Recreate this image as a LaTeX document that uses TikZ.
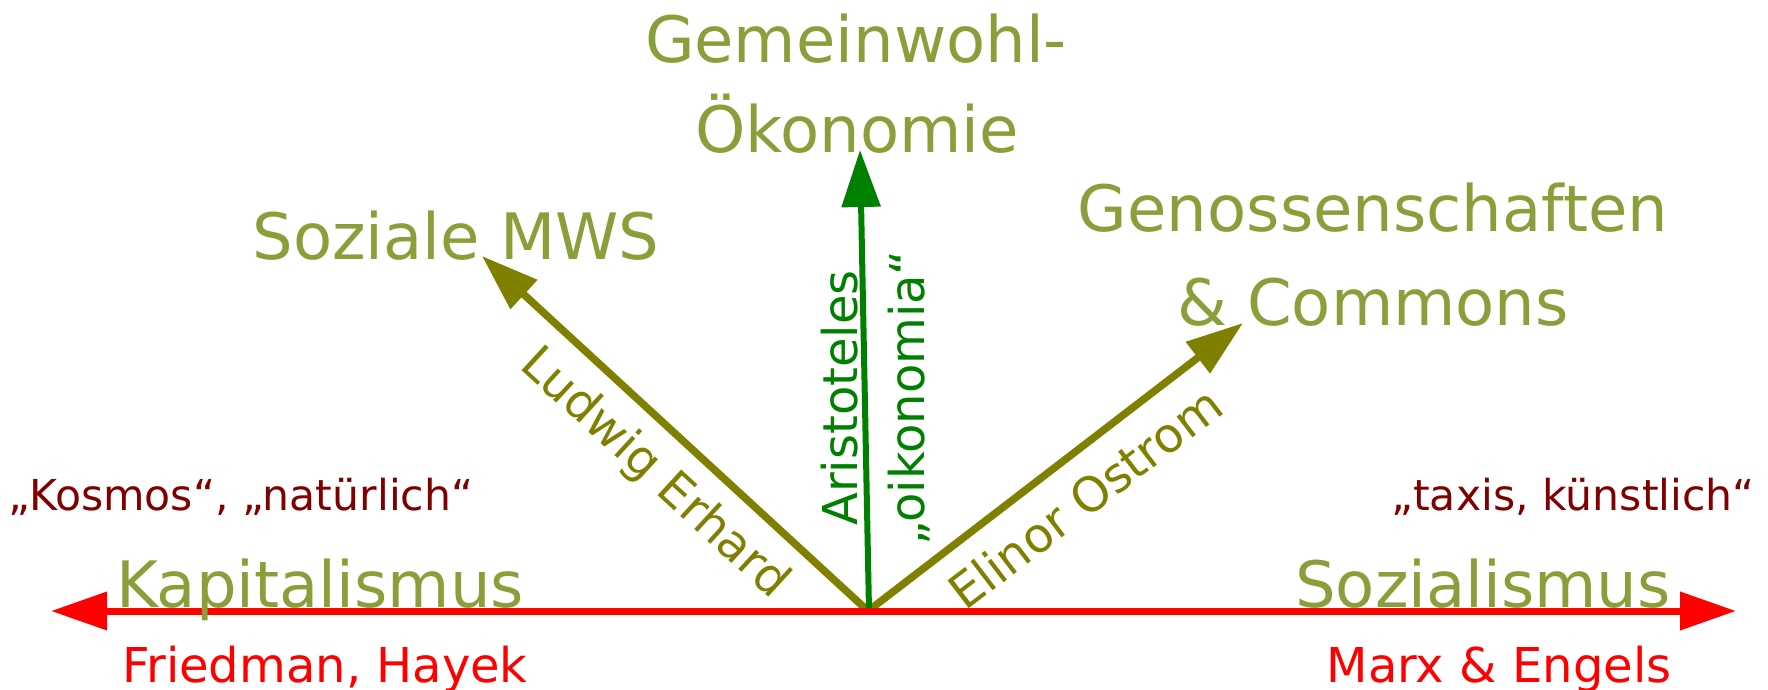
\documentclass[tikz,border=0pt]{standalone}
\usepackage{fontspec}
\setmainfont{DejaVu Sans}
\usetikzlibrary{arrows.meta}
\definecolor{lbl}{RGB}{137,160,58}
\definecolor{oliv}{RGB}{128,128,0}
\definecolor{grn}{RGB}{0,128,0}
\definecolor{dred}{RGB}{128,0,0}
\begin{document}
\begin{tikzpicture}[x=1pt,y=-1pt,
  big/.style={text=lbl, font=\fontsize{64}{64}\selectfont, inner sep=0pt, anchor=base},
  mid/.style={font=\fontsize{48}{48}\selectfont, inner sep=0pt},
  sml/.style={font=\fontsize{42.6}{42.6}\selectfont, inner sep=0pt, text=dred, anchor=base},
  axis/.style={line width=7pt, red, {Triangle[length=56pt,width=37pt]}-{Triangle[length=56pt,width=37pt]}},
  oarrow/.style={line width=7.5pt, oliv, -{Triangle[length=57pt,width=38pt]}},
  garrow/.style={line width=6pt, grn, -{Triangle[length=57pt,width=38pt]}}
]
\useasboundingbox (0,0) rectangle (1768,689);
\coordinate (L) at (51,611);
\coordinate (R) at (1736,611);
\coordinate (O) at (868,611);
\coordinate (G0) at (869,611);
\coordinate (GT) at (860,150);
\coordinate (LT) at (482,256);
\coordinate (RT) at (1243,323);

\draw[oarrow] (O) -- (LT);
\draw[oarrow] (O) -- (RT);
\draw[garrow] (G0) -- (GT);
\draw[axis] (L) -- (R);

\node[big] (gem) at (856,62) {Gemeinwohl-};
\node[big] (oek) at (857,152) {Ökonomie};
\node[big] (soz) at (456,259) {Soziale MWS};
\node[big] (gen) at (1373,231) {Genossenschaften};
\node[big] (com) at (1373,325) {\& Commons};
\node[big] (kap) at (320,607) {Kapitalismus};
\node[big] (sozi) at (1483,607) {Sozialismus};
\node[mid, text=red, anchor=base] (fh) at (325,682) {Friedman, Hayek};
\node[mid, text=red, anchor=base] (me) at (1499,682) {Marx \& Engels};
\node[sml] (kos) at (241,510) {„Kosmos“, „natürlich“};
\node[sml] (tax) at (1573,510) {„taxis, künstlich“};
\node[mid, text=oliv, rotate=-42.6] (lud) at (654,474) {Ludwig Erhard};
\node[mid, text=oliv, rotate=37.4] (eli) at (1085,498) {Elinor Ostrom};
\node[mid, text=grn, rotate=90] (ari) at (840,398) {Aristoteles};
\node[mid, text=grn, rotate=90] (oik) at (909,398) {„oikonomia“};
\end{tikzpicture}
\end{document}
